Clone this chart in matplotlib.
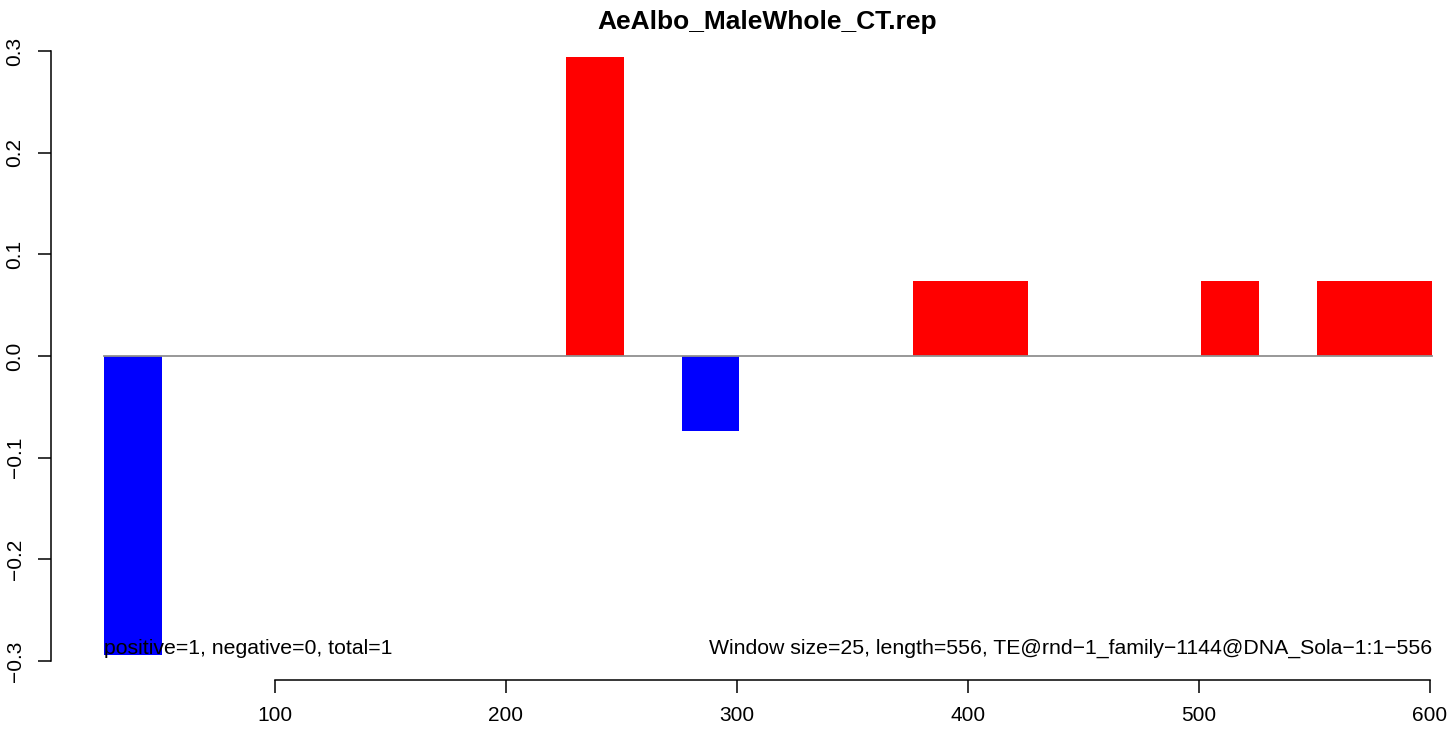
import numpy as np
import matplotlib.pyplot as plt

plt.rcParams['font.family'] = ['Liberation Sans', 'DejaVu Sans']

# window starts (window size 25) and their scores
win_start = [26, 51, 76, 101, 126, 151, 176, 201, 226, 251, 276, 301,
             326, 351, 376, 401, 426, 451, 476, 501, 526, 551, 576]
score = [-0.294, 0, 0, 0, 0, 0, 0, 0, 0.294, 0, -0.0735, 0,
         0, 0, 0.0735, 0.0735, 0, 0, 0, 0.0735, 0, 0.0735, 0.0735]
win_size = 25
title = "AeAlbo_MaleWhole_CT.rep"
left_note = "positive=1, negative=0, total=1"
right_note = "Window size=25, length=556, TE@rnd\u22121_family\u22121144@DNA_Sola\u22121:1\u2212556"
xticks = [100, 200, 300, 400, 500, 600]
yticks = [-0.3, -0.2, -0.1, 0.0, 0.1, 0.2, 0.3]

W, H = 1452, 730
fig = plt.figure(figsize=(W / 100, H / 100), dpi=100)
ax = fig.add_axes([51 / W, 1 - 680 / H, (1445 - 51) / W, (680 - 33) / H])

colors = ['red' if v > 0 else 'blue' for v in score]
ax.bar(win_start, score, width=win_size, align='edge', color=colors, linewidth=0)
ax.plot([win_start[0], win_start[-1] + win_size], [0, 0], color='#909090', linewidth=1.3)

ax.set_xlim(3.03, 606.5)
ax.set_ylim(-0.3187, 0.3177)

for s in ['top', 'right']:
    ax.spines[s].set_visible(False)
ax.spines['bottom'].set_bounds(xticks[0], xticks[-1])
ax.spines['left'].set_bounds(yticks[0], yticks[-1])
for s in ['bottom', 'left']:
    ax.spines[s].set_linewidth(1.1)

ax.set_xticks(xticks)
ax.set_xticklabels([str(t) for t in xticks])
ax.set_yticks(yticks)
ax.set_yticklabels([f"{t:.1f}".replace('-', '\u2212') for t in yticks],
                   rotation=90, va='center')
ax.tick_params(axis='both', length=9.5, width=1.1, labelsize=15, pad=9.5)

ax.text(win_start[0], -0.2875, left_note, ha='left', va='center', fontsize=15.3)
ax.text(win_start[-1] + win_size, -0.2875, right_note, ha='right', va='center', fontsize=15.3)

# R centres the title over the full plot region, which runs past the right edge
fig.text(767.5 / W, 1 - 22 / H, title, ha='center', va='center',
         fontsize=19, fontweight='bold')

fig.savefig('out.png', dpi=100)
